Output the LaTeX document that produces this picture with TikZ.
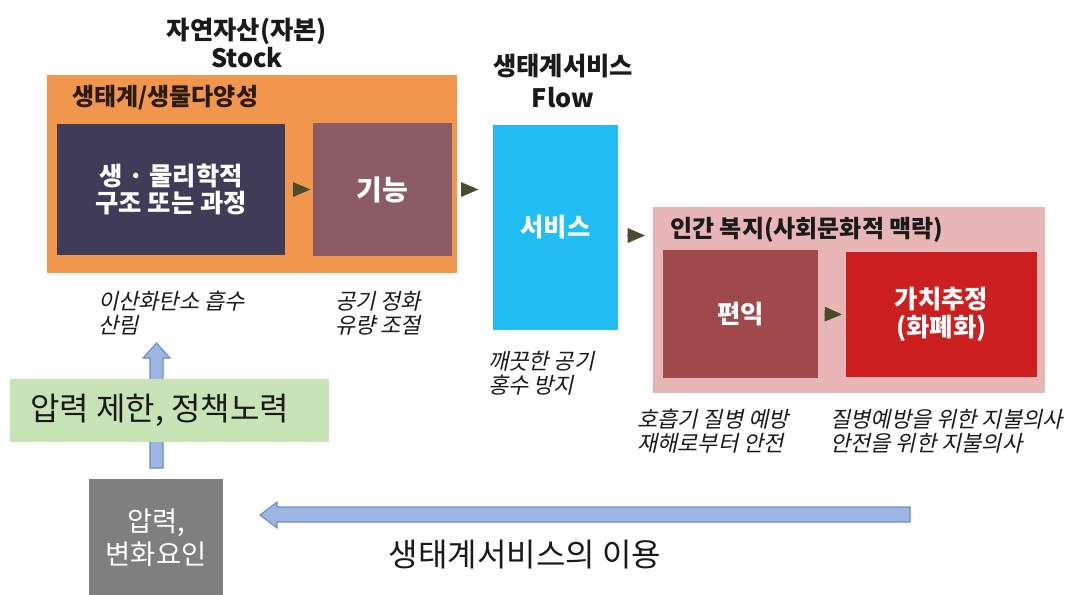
\documentclass[tikz,border=0pt]{standalone}
\usepackage{fontspec}
\setmainfont{Noto Sans CJK KR}
\newfontfamily\kri[FakeSlant=0.22]{Noto Sans CJK KR}
\usetikzlibrary{fit,arrows.meta,calc}
\definecolor{orangeC}{HTML}{F0974D}
\definecolor{navyC}{HTML}{403C57}
\definecolor{mauveC}{HTML}{8C5C66}
\definecolor{cyanC}{HTML}{22BDF2}
\definecolor{pinkC}{HTML}{E8B6B6}
\definecolor{benC}{HTML}{A0494A}
\definecolor{redC}{HTML}{CC1F1F}
\definecolor{greenC}{HTML}{C8E4B6}
\definecolor{grayC}{HTML}{7F7F7F}
\definecolor{arrFill}{HTML}{9DB6E4}
\definecolor{arrLine}{HTML}{6C8CC8}
\definecolor{triC}{HTML}{4B4B2D}
\definecolor{txtC}{HTML}{1A1A1A}
\definecolor{ecoT}{HTML}{2B1A10}
\tikzset{
  box/.style={inner sep=0pt, outer sep=0pt, draw=none},
  ttl/.style={font=\bfseries\fontsize{19pt}{21pt}\selectfont, text=txtC, align=center},
  hdr/.style={font=\bfseries\fontsize{18pt}{20pt}\selectfont, text=ecoT, anchor=west, inner sep=0pt},
  boxtxt/.style={font=\bfseries\fontsize{19pt}{20.5pt}\selectfont, text=white, align=center},
  note/.style={font=\kri\fontsize{16.5pt}{18pt}\selectfont, text=txtC, align=left, anchor=west, inner sep=0pt},
  barrow/.style={fill=arrFill, draw=arrLine, line width=0.8pt, line join=miter},
  tri/.style={draw=triC, line width=0.6pt, -{Triangle[length=13pt, width=11pt]}, triC},
}
\begin{document}
\begin{tikzpicture}[x=0.75pt, y=-0.75pt]
\useasboundingbox (0,0) rectangle (1073,594);
\fill[white] (0,0) rectangle (1073,594);

% titles
\node[ttl] (stockT) at (247,43) {자연자산(자본)\\Stock};
\node[ttl, font=\bfseries\fontsize{19pt}{24pt}\selectfont] (flowT) at (563,81) {생태계서비스\\Flow};

% stock group
\node[box, fill=orangeC, fit={(47,75)(457,273)}] (eco) {};
\node[hdr] (ecolbl) at (72,98) {생태계/생물다양성};
\node[box, fill=navyC, minimum width=171pt, minimum height=98.25pt, boxtxt] (bio) at (171,189.5) {생 · 물리학적\\구조 또는 과정};
\node[box, fill=mauveC, minimum width=104.25pt, minimum height=99.75pt, boxtxt, font=\bfseries\fontsize{21pt}{22pt}\selectfont] (func) at (382.5,189.5) {기능};

% flow
\node[box, fill=cyanC, minimum width=93.75pt, minimum height=153.75pt, boxtxt] (svc) at (555.5,227.5) {서비스};

% welfare group
\node[box, fill=pinkC, fit={(653,207)(1045,393)}] (wb) {};
\node[hdr, text=txtC] (wblbl) at (670,230) {인간 복지(사회문화적 맥락)};
\node[box, fill=benC, minimum width=116.25pt, minimum height=96pt, boxtxt] (ben) at (740.5,314) {편익};
\node[box, fill=redC, minimum width=143.25pt, minimum height=93.75pt, boxtxt, font=\bfseries\fontsize{19pt}{21pt}\selectfont] (val) at (941.5,314.5) {가치추정\\(화폐화)};

% small triangle connectors
\draw[tri, shorten <=6pt, shorten >=2pt] (bio.east) -- (func.west);
\draw[tri, shorten <=8pt, shorten >=11pt] (func.east) -- (func.east -| svc.west);
\coordinate (s1) at ($(svc.east)+(0,8)$);
\draw[tri, shorten <=7pt, shorten >=6pt] (s1) -- (s1 -| wb.west);
\draw[tri, shorten <=5pt, shorten >=3pt] (ben.east) -- (val.west);

% notes
\node[note] (n1) at (98,313) {이산화탄소 흡수\\산림};
\node[note] (n2) at (335,313) {공기 정화\\유량 조절};
\node[note] (n3) at (488,373) {깨끗한 공기\\홍수 방지};
\node[note] (n4) at (637,431) {호흡기 질병 예방\\재해로부터 안전};
\node[note] (n5) at (830,431) {질병예방을 위한 지불의사\\안전을 위한 지불의사};

% block arrows
\draw[barrow] (150,468) -- (150,358) -- (143,358) -- (156.5,343) -- (170,358) -- (163,358) -- (163,468) -- cycle;
\draw[barrow] (910,507) -- (277,507) -- (277,502) -- (260,515) -- (277,528) -- (277,522) -- (910,522) -- cycle;

% policy box
\node[box, fill=greenC, fit={(10,379)(329,442)}] (pol) {};
\node[anchor=west, inner sep=0pt, font=\fontsize{24pt}{26pt}\selectfont, text=txtC] (poltxt) at (30,410) {압력 제한, 정책노력};

% pressure box
\node[box, fill=grayC, minimum width=100.5pt, minimum height=87.75pt, font=\fontsize{20.5pt}{25pt}\selectfont, text=white, align=center] (prs) at (156,537.5) {압력,\\변화요인};

% usage label
\node[font=\fontsize{24pt}{26pt}\selectfont, text=txtC] (use) at (525,555) {생태계서비스의 이용};
\end{tikzpicture}
\end{document}
